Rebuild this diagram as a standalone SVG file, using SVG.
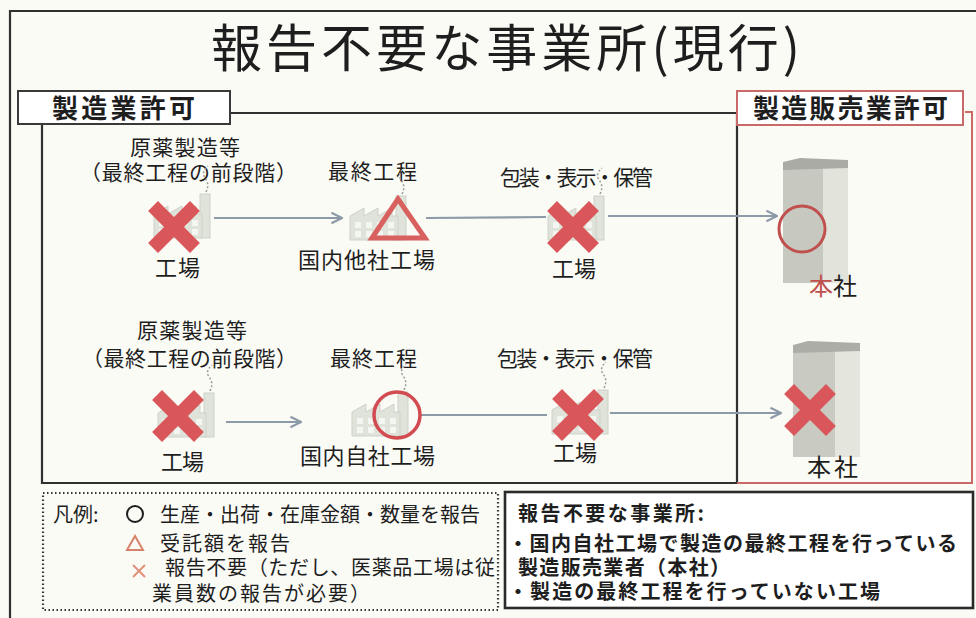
<svg xmlns="http://www.w3.org/2000/svg" width="976" height="618" viewBox="0 0 976 618">
  <style>
    .jp { font-family: "Noto Sans CJK JP", "Noto Sans", sans-serif; fill: #1e1e1e; }
    .lbl { font-size: 21px; }
    .big { font-size: 22px; }
    .hd { font-size: 26px; font-weight: bold; }
    .note { font-size: 20px; font-weight: bold; }
    .leg { font-size: 20px; }
    .frame { fill: none; stroke: #2f3131; stroke-width: 2.2; }
    .conn { fill: none; stroke: #8d9aa8; stroke-width: 2.2; }
    .fac { fill: #dfe3da; stroke: #cdd2c8; stroke-width: 1; }
    .smoke { fill: none; stroke: #9a9e98; stroke-width: 1.5; stroke-dasharray: 2 2; }
    .redx { stroke: #d9575a; stroke-width: 14; stroke-linecap: square; }
  </style>
  <defs>
    <marker id="chev" viewBox="0 0 10 10" refX="9" refY="5" markerWidth="6" markerHeight="6" markerUnits="strokeWidth" orient="auto">
      <path d="M1 1 L9 5 L1 9" fill="none" stroke="#8d9aa8" stroke-width="1.6"/>
    </marker>
    <!-- small factory: saw-tooth roof with a chimney -->
    <g id="factory">
      <path class="smoke" d="M52 -2 q4 -8 -1 -14 q-4 -6 3 -12"/>
      <rect class="fac" x="46" y="0" width="10" height="44"/>
      <path class="fac" d="M0 44 V20 L14 12 V20 L28 12 V20 L42 12 V20 L48 20 V44 Z"/>
      <g fill="#f4f6f1">
        <rect x="5" y="26" width="6" height="6"/><rect x="16" y="26" width="6" height="6"/><rect x="27" y="26" width="6" height="6"/><rect x="38" y="26" width="6" height="6"/>
        <rect x="5" y="35" width="6" height="6"/><rect x="16" y="35" width="6" height="6"/><rect x="27" y="35" width="6" height="6"/><rect x="38" y="35" width="6" height="6"/>
      </g>
    </g>
    <!-- red cross mark -->
    <g id="cross">
      <line class="redx" x1="-16" y1="-16" x2="16" y2="16"/>
      <line class="redx" x1="16" y1="-16" x2="-16" y2="16"/>
    </g>
  </defs>

  <rect width="976" height="618" fill="#fbfbf6"/>

  <!-- outer frame -->
  <path class="frame" d="M10 625 V11 H980" stroke-width="2.6"/>

  <!-- title -->
  <text id="title" class="jp" x="211" y="67" font-size="51" textLength="589" lengthAdjust="spacing">報告不要な事業所(現行)</text>

  <!-- 製造業許可 area -->
  <g id="mfg-area">
    <path class="frame" d="M230 113 H737 V483 H42 V124"/>
    <rect x="18" y="91" width="212" height="33" fill="#ffffff" stroke="#3a3a3a" stroke-width="2"/>
    <text class="jp hd" x="52" y="118" textLength="143" lengthAdjust="spacing">製造業許可</text>
  </g>

  <!-- 製造販売業許可 area -->
  <g id="mah-area">
    <path d="M737 483 H972 V112 H965" fill="none" stroke="#c96a68" stroke-width="2"/>
    <rect x="737" y="91" width="226" height="34" fill="#ffffff" stroke="#c96a68" stroke-width="2"/>
    <text class="jp hd" x="753" y="118" textLength="195" lengthAdjust="spacing">製造販売業許可</text>
  </g>

  <!-- connectors -->
  <g id="connectors">
    <line class="conn" x1="214" y1="218" x2="342" y2="218" marker-end="url(#chev)"/>
    <line class="conn" x1="426" y1="218" x2="546" y2="217"/>
    <line class="conn" x1="608" y1="216" x2="777" y2="216" marker-end="url(#chev)"/>
    <line class="conn" x1="226" y1="422" x2="301" y2="422" stroke-width="3" marker-end="url(#chev)"/>
    <line class="conn" x1="421" y1="415" x2="547" y2="415"/>
    <line class="conn" x1="610" y1="413" x2="781" y2="413" marker-end="url(#chev)"/>
  </g>

  <!-- row 1 -->
  <g id="r1-api">
    <text class="jp lbl" x="130" y="155" textLength="110" lengthAdjust="spacing">原薬製造等</text>
    <text class="jp lbl" x="80" y="180" textLength="217" lengthAdjust="spacing">（最終工程の前段階）</text>
    <use href="#factory" x="154" y="194"/>
    <use href="#cross" x="174" y="227"/>
    <text class="jp big" x="155" y="276" textLength="45" lengthAdjust="spacing">工場</text>
  </g>
  <g id="r1-final">
    <text class="jp lbl" x="328" y="179" textLength="89" lengthAdjust="spacing">最終工程</text>
    <use href="#factory" x="350" y="196"/>
    <path d="M398 199 L425 238 L372 238 Z" fill="none" stroke="#d8605f" stroke-width="5" stroke-linejoin="miter"/>
    <text class="jp big" x="298" y="268" textLength="137" lengthAdjust="spacing">国内他社工場</text>
  </g>
  <g id="r1-pack">
    <text class="jp lbl" x="500" y="185" textLength="153" lengthAdjust="spacing">包装・表示・保管</text>
    <use href="#factory" x="548" y="196"/>
    <use href="#cross" x="573" y="227"/>
    <text class="jp big" x="552" y="277" textLength="44" lengthAdjust="spacing">工場</text>
  </g>
  <g id="r1-hq">
    <rect x="783" y="162" width="40" height="121" fill="#c7c9c1"/>
    <rect x="823" y="164" width="25" height="119" fill="#e2e4dc"/>
    <path d="M783 162 L800 158 L848 160 L848 168 L783 170 Z" fill="#a9aba4"/>
    <circle cx="802" cy="229" r="23" fill="none" stroke="#c0504d" stroke-width="3"/>
    <text class="jp" x="809" y="295" font-size="24"><tspan fill="#c0504d">本</tspan>社</text>
  </g>

  <!-- row 2 -->
  <g id="r2-api">
    <text class="jp lbl" x="137" y="338" textLength="110" lengthAdjust="spacing">原薬製造等</text>
    <text class="jp lbl" x="82" y="366" textLength="215" lengthAdjust="spacing">（最終工程の前段階）</text>
    <use href="#factory" x="158" y="393"/>
    <use href="#cross" x="178" y="416"/>
    <text class="jp big" x="161" y="470" textLength="43" lengthAdjust="spacing">工場</text>
  </g>
  <g id="r2-final">
    <text class="jp lbl" x="330" y="366" textLength="87" lengthAdjust="spacing">最終工程</text>
    <use href="#factory" x="352" y="392"/>
    <circle cx="397" cy="415" r="23" fill="none" stroke="#d24b51" stroke-width="3.5"/>
    <text class="jp big" x="300" y="464" textLength="135" lengthAdjust="spacing">国内自社工場</text>
  </g>
  <g id="r2-pack">
    <text class="jp lbl" x="497" y="366" textLength="156" lengthAdjust="spacing">包装・表示・保管</text>
    <use href="#factory" x="552" y="390"/>
    <use href="#cross" x="578" y="415"/>
    <text class="jp big" x="553" y="461" textLength="44" lengthAdjust="spacing">工場</text>
  </g>
  <g id="r2-hq">
    <rect x="793" y="345" width="42" height="112" fill="#c9cbc3"/>
    <rect x="835" y="347" width="25" height="110" fill="#e4e6de"/>
    <path d="M793 345 L808 341 L860 343 L860 351 L793 353 Z" fill="#abada6"/>
    <use href="#cross" x="810" y="410"/>
    <text class="jp" x="807" y="476" font-size="24" textLength="51" lengthAdjust="spacing">本社</text>
  </g>

  <!-- legend -->
  <g id="legend">
    <rect x="43" y="493" width="455" height="117" fill="none" stroke="#333" stroke-width="2.2" stroke-dasharray="1.5 2.5"/>
    <text class="jp leg" x="53" y="522">凡例:</text>
    <circle cx="135" cy="514" r="8" fill="none" stroke="#1e1e1e" stroke-width="2"/>
    <text class="jp leg" x="160" y="522" textLength="320" lengthAdjust="spacing">生産・出荷・在庫金額・数量を報告</text>
    <path d="M135 536 L143 550 L127 550 Z" fill="none" stroke="#d9826a" stroke-width="2"/>
    <text class="jp leg" x="160" y="551" textLength="130" lengthAdjust="spacing">受託額を報告</text>
    <path d="M133 565 L145 577 M145 565 L133 577" stroke="#e0907a" stroke-width="2"/>
    <text class="jp leg" x="165" y="575" textLength="330" lengthAdjust="spacing">報告不要（ただし、医薬品工場は従</text>
    <text class="jp leg" x="152" y="601" textLength="218" lengthAdjust="spacing">業員数の報告が必要）</text>
  </g>

  <!-- note -->
  <g id="note">
    <rect x="505" y="492" width="468" height="116" fill="#ffffff" stroke="#2a2a2a" stroke-width="2.6"/>
    <text class="jp note" x="518" y="521" textLength="186" lengthAdjust="spacing">報告不要な事業所:</text>
    <text class="jp note" x="508" y="551" textLength="449" lengthAdjust="spacing">・国内自社工場で製造の最終工程を行っている</text>
    <text class="jp note" x="518" y="575" textLength="212" lengthAdjust="spacing">製造販売業者（本社）</text>
    <text class="jp note" x="508" y="599" textLength="372" lengthAdjust="spacing">・製造の最終工程を行っていない工場</text>
  </g>
</svg>
